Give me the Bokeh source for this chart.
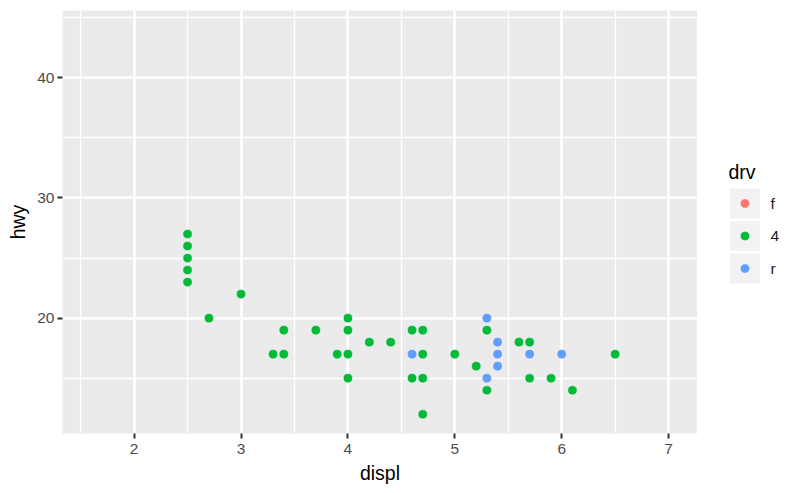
from bokeh.plotting import figure
from bokeh.layouts import row
from bokeh.models import (FixedTicker, Range1d, ColumnDataSource, CDSView,
                          GroupFilter)
from bokeh.core.properties import value
from bokeh.embed import file_html
from bokeh.resources import INLINE

# ---- data ----
displ = [2.5, 2.5, 2.5, 2.5, 2.5, 2.7, 3.0, 3.3, 3.4, 3.4, 3.7, 3.9,
         4.0, 4.0, 4.0, 4.0, 4.2, 4.4, 4.6, 4.6, 4.7, 4.7, 4.7, 4.7,
         5.0, 5.2, 5.3, 5.3, 5.6, 5.7, 5.7, 5.9, 6.1, 6.5,
         4.6, 5.3, 5.3, 5.4, 5.4, 5.4, 5.7, 6.0]
hwy = [23, 24, 25, 26, 27, 20, 22, 17, 17, 19, 19, 17,
       15, 17, 19, 20, 18, 18, 15, 19, 12, 15, 17, 19,
       17, 16, 14, 19, 18, 15, 18, 15, 14, 17,
       17, 15, 20, 16, 17, 18, 17, 17]
drv = ["4"] * 34 + ["r"] * 8

drv_levels = ["f", "4", "r"]
drv_colors = ["#F8766D", "#00BA38", "#619CFF"]

x_ticks = [2, 3, 4, 5, 6, 7]
x_minor = [1.5, 2.5, 3.5, 4.5, 5.5, 6.5]
y_ticks = [20, 30, 40]
y_minor = [15, 25, 35, 45]

# scale limits (full-data limits, expanded 5%)
x_lim = (1.6, 7.0)
y_lim = (12, 44)
def expand(lim, f=0.05):
    d = (lim[1] - lim[0]) * f
    return lim[0] - d, lim[1] + d

FONT = "Liberation Sans"
PT_SIZE = 8.2

# ---------------- main panel ----------------
p = figure(width=697, height=493,
           x_range=Range1d(*expand(x_lim)), y_range=Range1d(*expand(y_lim)),
           output_backend="svg", toolbar_location=None,
           min_border_left=62, min_border_right=0,
           min_border_top=10, min_border_bottom=60,
           x_axis_label="displ", y_axis_label="hwy")

p.background_fill_color = "#EBEBEB"
p.border_fill_color = "white"
p.outline_line_color = None

xt = FixedTicker(ticks=x_ticks, minor_ticks=x_minor)
yt = FixedTicker(ticks=y_ticks, minor_ticks=y_minor)
p.xaxis.ticker = xt
p.yaxis.ticker = yt
p.xgrid.ticker = xt
p.ygrid.ticker = yt

for g in (p.xgrid, p.ygrid):
    g.grid_line_color = "white"
    g.grid_line_width = 2.5
    g.minor_grid_line_color = "white"
    g.minor_grid_line_width = 1.3

for ax in (p.xaxis, p.yaxis):
    ax.axis_line_color = None
    ax.major_tick_line_color = "#333333"
    ax.major_tick_line_width = 2
    ax.major_tick_out = 5
    ax.major_tick_in = 0
    ax.minor_tick_line_color = None
    ax.major_label_text_font = FONT
    ax.major_label_text_font_size = "15.5px"
    ax.major_label_text_color = "#4D4D4D"
    ax.axis_label_text_font = FONT
    ax.axis_label_text_font_size = "19.5px"
    ax.axis_label_text_color = "black"
    ax.axis_label_text_font_style = "normal"

p.xaxis.major_label_standoff = 5
p.xaxis.axis_label_standoff = 5
p.yaxis.major_label_standoff = 3
p.yaxis.axis_label_standoff = 5

source = ColumnDataSource(dict(displ=displ, hwy=hwy, drv=drv))
for lvl, col in zip(drv_levels, drv_colors):
    view = CDSView(filter=GroupFilter(column_name="drv", group=lvl))
    p.scatter("displ", "hwy", source=source, view=view, size=PT_SIZE,
              fill_color=col, line_color=col, line_width=0.5)

# ---------------- legend (drv) ----------------
# a side figure whose frame is aligned with the main panel (page pixels)
leg = figure(width=103, height=493, x_range=Range1d(697, 800),
             y_range=Range1d(433, 10),
             output_backend="svg", toolbar_location=None,
             x_axis_type=None, y_axis_type=None,
             min_border_left=0, min_border_right=0,
             min_border_top=10, min_border_bottom=60)
leg.grid.visible = False
leg.outline_line_color = None
leg.background_fill_color = "white"
leg.border_fill_color = "white"

key_x, label_x, title_x = 744.5, 770, 728
first_key_y, key_pitch, title_y = 203, 32.5, 171
key_y = [first_key_y + i * key_pitch for i in range(len(drv_levels))]
leg_src = ColumnDataSource(dict(kx=[key_x] * len(drv_levels), ky=key_y,
                                lx=[label_x] * len(drv_levels),
                                label=drv_levels, color=drv_colors))

leg.scatter("kx", "ky", source=leg_src, marker="square", size=30,
            fill_color="#F2F2F2", line_color=None)
leg.scatter("kx", "ky", source=leg_src, size=PT_SIZE, fill_color="color",
            line_color="color", line_width=0.5)
leg.text("lx", "ky", text="label", source=leg_src, text_font=value(FONT),
         text_font_size="15.5px", text_color="#1A1A1A",
         text_baseline="middle", text_align="left")
leg.text(x=[title_x], y=[title_y], text=["drv"], text_font=value(FONT),
         text_font_size="19.5px", text_color="black",
         text_baseline="alphabetic", text_align="left")

layout = row(p, leg, spacing=0)
open("out.html", "w").write(file_html(layout, INLINE))
